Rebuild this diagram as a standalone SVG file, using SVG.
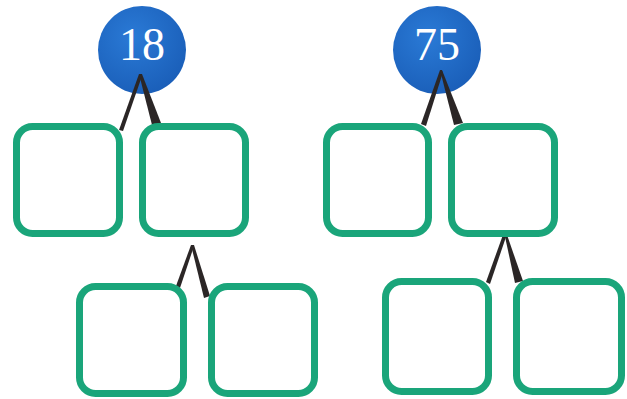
<svg xmlns="http://www.w3.org/2000/svg" width="627" height="399" viewBox="0 0 627 399">
<style>
.box{fill:#fff;stroke:#1aa57a;stroke-width:7}
.lbl{font-family:"Liberation Serif",serif;font-size:46px;fill:#fff;text-anchor:middle}
.leg{fill:#2b2626}
</style>
<defs>
<radialGradient id="g" cx="0.4" cy="0.35" r="0.7">
<stop offset="0" stop-color="#2a7ad6"/>
<stop offset="1" stop-color="#1a5eb8"/>
</radialGradient>
</defs>
<rect width="627" height="399" fill="#fff"/>
<g id="n18"><circle cx="142" cy="50" r="44" fill="url(#g)"/><text class="lbl" x="142" y="60">18</text></g>
<g id="n75"><circle cx="437" cy="50" r="44" fill="url(#g)"/><text class="lbl" x="437" y="60">75</text></g>
<g id="connectors">
<polygon class="leg" points="139,74 142,76 123,131 119,130"/>
<polygon class="leg" points="139,74 142,74 161,123 152,125"/>
<polygon class="leg" points="191,245 194,246 180,288 176,286"/>
<polygon class="leg" points="191,245 194,245 210,296 204,298"/>
<polygon class="leg" points="440,70 443,72 426,126 421,124"/>
<polygon class="leg" points="440,70 442,70 463,123 454,125"/>
<polygon class="leg" points="504,232 507,234 490,284 486,282"/>
<polygon class="leg" points="504,232 506,232 523,281 515,283"/>
</g>
<g id="a"><rect class="box" x="16.5" y="126.5" width="103" height="107" rx="16"/></g>
<g id="b"><rect class="box" x="142.5" y="126.5" width="103" height="107" rx="16"/></g>
<g id="c"><rect class="box" x="79.5" y="286.5" width="104" height="107" rx="16"/></g>
<g id="d"><rect class="box" x="211.5" y="286.5" width="103" height="107" rx="16"/></g>
<g id="e"><rect class="box" x="326.5" y="126.5" width="102" height="107" rx="16"/></g>
<g id="f"><rect class="box" x="451.5" y="126.5" width="103" height="107" rx="16"/></g>
<g id="g1"><rect class="box" x="385.5" y="281.5" width="103" height="110" rx="16"/></g>
<g id="h"><rect class="box" x="516.5" y="281.5" width="105" height="110" rx="16"/></g>
</svg>
